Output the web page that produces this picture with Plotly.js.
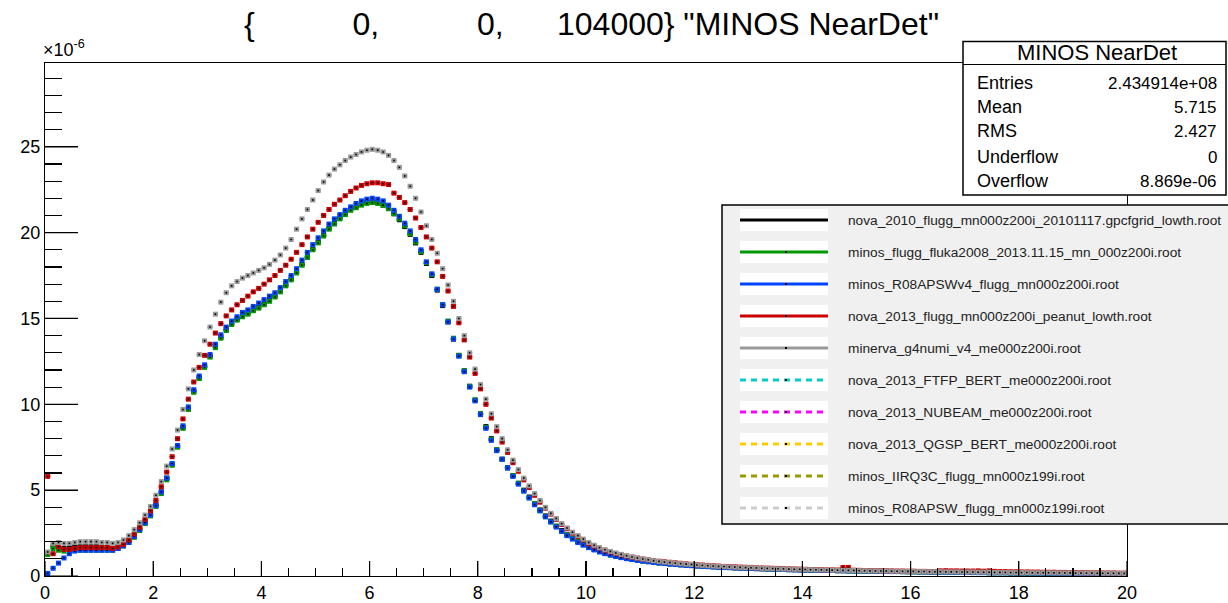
<!DOCTYPE html>
<html><head><meta charset="utf-8">
<script src="https://cdn.plot.ly/plotly-3.0.1.min.js"></script>
<style>html,body{margin:0;padding:0;background:#fff;} #chart{width:1228px;height:603px;}</style>
</head><body><div id="chart"></div>
<script>
// ---- histogram binning (axis structure) ----
const binLow = 0, binWidth = 0.1;

// ---- legend entries ----
const seriesNames = [
  "nova_2010_flugg_mn000z200i_20101117.gpcfgrid_lowth.root",
  "minos_flugg_fluka2008_2013.11.15_mn_000z200i.root",
  "minos_R08APSWv4_flugg_mn000z200i.root",
  "nova_2013_flugg_mn000z200i_peanut_lowth.root",
  "minerva_g4numi_v4_me000z200i.root",
  "nova_2013_FTFP_BERT_me000z200i.root",
  "nova_2013_NUBEAM_me000z200i.root",
  "nova_2013_QGSP_BERT_me000z200i.root",
  "minos_IIRQ3C_flugg_mn000z199i.root",
  "minos_R08APSW_flugg_mn000z199i.root"
];
const seriesColors = ["#000000","#009900","#0044ff","#cc0000","#999999","#00cccc","#ff00ff","#ffcc00","#999900","#cccccc"];
const seriesDash = ["solid","solid","solid","solid","solid","dash","dash","dash","dash","dash"];

// ---- series values (units of 1e-6), bins of 0.1 from 0 to 20 ----
const nova2010 = [
1.3,1.75,1.65,1.6,1.65,1.7,1.7,1.7,1.7,1.7,
1.65,1.65,1.6,1.7,1.85,2.05,2.35,2.75,3.15,3.6,
4.15,4.9,5.7,6.5,7.55,8.65,9.75,10.75,11.55,12.2,
12.8,13.35,13.9,14.35,14.7,14.95,15.15,15.3,15.5,15.65,
15.85,16.05,16.3,16.6,16.95,17.3,17.7,18.15,18.6,19.05,
19.45,19.85,20.25,20.55,20.85,21.1,21.35,21.5,21.65,21.75,
21.8,21.75,21.6,21.4,21.1,20.75,20.35,19.9,19.4,18.85,
18.2,17.5,16.65,15.75,14.8,13.8,12.85,11.95,11.05,10.25,
9.45,8.7,8.0,7.35,6.8,6.3,5.85,5.4,5.0,4.6,
4.2,3.85,3.5,3.2,2.9,2.65,2.4,2.2,2.0,1.83,
1.68,1.55,1.43,1.33,1.24,1.16,1.09,1.03,0.97,0.92,
0.88,0.84,0.8,0.77,0.74,0.71,0.68,0.66,0.63,0.61,
0.59,0.57,0.55,0.54,0.52,0.51,0.49,0.48,0.47,0.46,
0.44,0.43,0.42,0.41,0.4,0.39,0.38,0.37,0.37,0.36,
0.35,0.34,0.34,0.33,0.32,0.32,0.31,0.31,0.3,0.3,
0.29,0.29,0.28,0.28,0.27,0.27,0.26,0.26,0.26,0.25,
0.25,0.24,0.24,0.23,0.23,0.23,0.22,0.22,0.21,0.21,
0.21,0.2,0.2,0.2,0.19,0.19,0.19,0.19,0.18,0.18,
0.18,0.17,0.17,0.17,0.17,0.16,0.16,0.16,0.16,0.15,
0.15,0.15,0.15,0.14,0.14,0.14,0.14,0.14,0.13,0.13];

const minosFluka2008 = [
1.25,1.6,1.5,1.45,1.45,1.5,1.5,1.5,1.5,1.5,
1.5,1.5,1.5,1.6,1.75,1.95,2.25,2.65,3.05,3.5,
4.05,4.8,5.6,6.45,7.5,8.6,9.7,10.7,11.5,12.15,
12.75,13.3,13.85,14.3,14.65,14.9,15.1,15.25,15.45,15.6,
15.8,16.0,16.25,16.55,16.9,17.25,17.65,18.1,18.55,19.0,
19.4,19.8,20.2,20.5,20.8,21.05,21.3,21.45,21.6,21.7,
21.75,21.7,21.6,21.4,21.1,20.8,20.4,19.95,19.45,18.9,
18.25,17.55,16.7,15.8,14.85,13.85,12.85,11.95,11.05,10.25,
9.45,8.65,7.95,7.35,6.8,6.3,5.85,5.4,4.95,4.55,
4.2,3.8,3.45,3.15,2.9,2.6,2.4,2.2,2.0,1.82,
1.67,1.54,1.42,1.32,1.23,1.15,1.08,1.02,0.97,0.92,
0.88,0.84,0.8,0.76,0.73,0.7,0.68,0.65,0.63,0.61,
0.59,0.57,0.55,0.53,0.52,0.5,0.49,0.47,0.46,0.45,
0.44,0.43,0.42,0.4,0.4,0.39,0.38,0.37,0.36,0.36,
0.35,0.34,0.33,0.33,0.32,0.32,0.31,0.3,0.3,0.29,
0.29,0.28,0.28,0.27,0.27,0.26,0.26,0.26,0.25,0.25,
0.24,0.24,0.24,0.23,0.23,0.22,0.22,0.22,0.21,0.21,
0.21,0.2,0.2,0.2,0.19,0.19,0.19,0.19,0.18,0.18,
0.18,0.17,0.17,0.17,0.17,0.16,0.16,0.16,0.16,0.15,
0.15,0.15,0.15,0.14,0.14,0.14,0.14,0.13,0.13,0.13];

const minosR08APSWv4 = [
0.15,0.45,0.75,1.05,1.3,1.45,1.5,1.5,1.5,1.5,
1.5,1.5,1.5,1.6,1.75,1.95,2.3,2.7,3.1,3.55,
4.1,4.9,5.7,6.55,7.6,8.75,9.85,10.85,11.65,12.3,
12.9,13.5,14.05,14.5,14.85,15.1,15.35,15.5,15.7,15.9,
16.1,16.3,16.5,16.8,17.15,17.5,17.9,18.4,18.85,19.3,
19.7,20.1,20.5,20.8,21.05,21.3,21.5,21.7,21.85,21.95,
22.0,21.95,21.85,21.6,21.3,20.95,20.55,20.1,19.6,19.0,
18.3,17.6,16.7,15.8,14.8,13.8,12.8,11.9,11.0,10.2,
9.4,8.6,7.9,7.3,6.8,6.3,5.8,5.35,4.95,4.55,
4.15,3.8,3.45,3.15,2.85,2.6,2.35,2.15,1.95,1.8,
1.65,1.52,1.4,1.3,1.22,1.14,1.07,1.01,0.96,0.91,
0.87,0.83,0.79,0.76,0.73,0.7,0.67,0.65,0.62,0.6,
0.58,0.56,0.55,0.53,0.51,0.5,0.49,0.47,0.46,0.45,
0.44,0.43,0.42,0.41,0.4,0.39,0.38,0.37,0.36,0.35,
0.35,0.34,0.34,0.33,0.32,0.32,0.31,0.31,0.3,0.3,
0.29,0.29,0.28,0.28,0.27,0.27,0.26,0.26,0.25,0.25,
0.25,0.24,0.24,0.23,0.23,0.23,0.22,0.22,0.22,0.21,
0.21,0.21,0.2,0.2,0.2,0.19,0.19,0.19,0.18,0.18,
0.18,0.18,0.17,0.17,0.17,0.17,0.16,0.16,0.16,0.16,
0.15,0.15,0.15,0.15,0.14,0.14,0.14,0.14,0.13,0.13];

const nova2013Peanut = [
5.8,1.3,1.7,1.55,1.55,1.6,1.65,1.65,1.65,1.65,
1.65,1.65,1.6,1.7,1.85,2.1,2.45,2.85,3.3,3.8,
4.4,5.2,6.05,6.95,8.0,9.15,10.3,11.3,12.15,12.85,
13.5,14.15,14.7,15.15,15.5,15.8,16.05,16.3,16.55,16.75,
17.0,17.25,17.5,17.8,18.1,18.45,18.85,19.3,19.75,20.2,
20.6,21.0,21.35,21.65,21.9,22.15,22.4,22.6,22.75,22.85,
22.9,22.9,22.85,22.8,22.3,22.05,21.75,21.35,20.85,20.3,
19.75,19.1,18.3,17.45,16.6,15.7,14.75,13.75,12.75,11.8,
10.9,10.0,9.2,8.45,7.8,7.2,6.6,6.1,5.6,5.15,
4.7,4.3,3.95,3.6,3.3,3.0,2.75,2.5,2.3,2.1,
1.88,1.74,1.62,1.5,1.4,1.31,1.23,1.16,1.1,1.04,
0.99,0.94,0.9,0.86,0.83,0.8,0.77,0.74,0.71,0.68,
0.66,0.64,0.62,0.6,0.58,0.56,0.55,0.54,0.52,0.51,
0.5,0.48,0.47,0.46,0.45,0.44,0.43,0.42,0.41,0.4,
0.39,0.38,0.38,0.37,0.36,0.36,0.35,0.5,0.5,0.34,
0.33,0.32,0.32,0.31,0.31,0.3,0.3,0.29,0.29,0.28,
0.28,0.27,0.27,0.26,0.26,0.3,0.31,0.3,0.3,0.29,
0.29,0.29,0.3,0.28,0.3,0.27,0.26,0.26,0.25,0.25,
0.24,0.24,0.23,0.23,0.22,0.22,0.22,0.21,0.21,0.2,
0.2,0.2,0.19,0.19,0.19,0.18,0.18,0.18,0.17,0.17];

const minervaG4numi = [
1.4,1.9,1.95,1.9,1.9,1.95,2.0,2.0,2.0,2.0,
1.95,1.95,1.9,1.95,2.1,2.35,2.7,3.1,3.55,4.05,
4.7,5.5,6.4,7.4,8.5,9.7,10.9,12.0,12.9,13.7,
14.5,15.25,15.95,16.5,16.9,17.15,17.35,17.5,17.65,17.8,
17.95,18.15,18.4,18.7,19.1,19.6,20.2,20.8,21.35,21.9,
22.45,22.95,23.35,23.7,23.95,24.2,24.4,24.55,24.7,24.8,
24.85,24.8,24.7,24.5,24.2,23.8,23.3,22.7,22.0,21.2,
20.4,19.6,18.8,17.9,16.95,16.0,15.0,14.0,13.0,12.05,
11.15,10.3,9.45,8.7,8.0,7.35,6.75,6.2,5.7,5.25,
4.8,4.4,4.0,3.65,3.35,3.05,2.8,2.55,2.35,2.15,
1.95,1.79,1.65,1.53,1.43,1.34,1.26,1.18,1.11,1.05,
0.99,0.94,0.89,0.85,0.81,0.78,0.75,0.72,0.69,0.67,
0.64,0.62,0.6,0.58,0.56,0.55,0.53,0.52,0.5,0.49,
0.48,0.47,0.45,0.44,0.43,0.42,0.41,0.4,0.39,0.39,
0.38,0.37,0.36,0.36,0.35,0.34,0.34,0.33,0.33,0.32,
0.31,0.31,0.3,0.3,0.29,0.29,0.28,0.28,0.27,0.27,
0.27,0.26,0.26,0.25,0.25,0.25,0.24,0.24,0.24,0.23,
0.23,0.23,0.22,0.22,0.22,0.21,0.21,0.21,0.2,0.2,
0.2,0.2,0.19,0.19,0.19,0.19,0.18,0.18,0.18,0.18,
0.17,0.17,0.17,0.17,0.16,0.16,0.16,0.16,0.15,0.15];

const drawnSeries = [nova2010, minosFluka2008, minosR08APSWv4, nova2013Peanut, minervaG4numi];

// ---- stats box ----
const statsTitle = "MINOS NearDet";
const statsLabels = ["Entries","Mean","RMS","Underflow","Overflow"];
const statsValues = ["2.434914e+08","5.715","2.427","0","8.869e-06"];

// ---- axis ticks ----
const xRange = [0, 20], yRange = [0, 29.88];
const xMajorTicks = [0, 2, 4, 6, 8, 10, 12, 14, 16, 18, 20];
const yMajorTicks = [0, 5, 10, 15, 20, 25];
const xMinorStep = 0.5, yMinorStep = 1;
const titleText = "{" + "\u00a0".repeat(11) + "0," + "\u00a0".repeat(11) + "0," + "\u00a0".repeat(6) + "104000} \"MINOS NearDet\"";

// ---- layout geometry (pixels) ----
const W = 1228, H = 603, PL = 45, PR = 1127, PT = 63, PB = 576;
const px = v => (v - PL) / (PR - PL);
const py = v => (PB - v) / (PB - PT);
const FONT = "Liberation Sans, Arial, Helvetica, sans-serif";

const binCenters = vals => vals.map((_, i) => binLow + (i + 0.5) * binWidth);
const traces = [];
drawnSeries.forEach((vals, k) => {
  traces.push({
    type: "scatter", mode: "markers",
    x: binCenters(vals), y: vals,
    marker: {symbol: "square", size: 5, color: seriesColors[k], line: {width: 0}},
    error_x: {type: "constant", value: binWidth / 2, width: 0, thickness: 1.2, color: seriesColors[k]},
    showlegend: false, hoverinfo: "skip"
  });
  traces.push({
    type: "scatter", mode: "markers",
    x: binCenters(vals), y: vals,
    marker: {symbol: "square", size: 1.6, color: "#000000", line: {width: 0}},
    showlegend: false, hoverinfo: "skip"
  });
});
// empty trace so the minor-tick overlay axes are drawn
traces.push({type: "scatter", mode: "markers", x: [], y: [], xaxis: "x2", yaxis: "y2", showlegend: false, hoverinfo: "skip"});

const shapes = [];
const annotations = [];

// major ticks (ROOT style, inside, long) placed through the axis scales
xMajorTicks.forEach(v => shapes.push({type: "line", xref: "x", yref: "paper", x0: v, x1: v, y0: 0, y1: 15 / (PB - PT),
  line: {color: "#000", width: 1.2}, layer: "above"}));
yMajorTicks.forEach(v => shapes.push({type: "line", xref: "paper", yref: "y", x0: 0, x1: 33 / (PR - PL), y0: v, y1: v,
  line: {color: "#000", width: 1.2}, layer: "above"}));

// stats box
shapes.push({type: "rect", xref: "paper", yref: "paper", x0: px(963), x1: px(1226), y0: py(195), y1: py(41.5),
  fillcolor: "#ffffff", line: {color: "#000", width: 1.5}, layer: "above"});
shapes.push({type: "line", xref: "paper", yref: "paper", x0: px(963), x1: px(1226), y0: py(64.5), y1: py(64.5),
  line: {color: "#000", width: 1.2}, layer: "above"});
annotations.push({xref: "paper", yref: "paper", x: px(1097), y: py(53), text: statsTitle, showarrow: false,
  xanchor: "center", yanchor: "middle", font: {family: FONT, size: 22, color: "#000"}});
const statsRowY = [83, 107, 131, 157, 181];
statsLabels.forEach((lab, i) => {
  annotations.push({xref: "paper", yref: "paper", x: px(975), y: py(statsRowY[i]), text: lab, showarrow: false,
    xanchor: "left", yanchor: "middle", font: {family: FONT, size: 18, color: "#000"}});
  annotations.push({xref: "paper", yref: "paper", x: px(1219), y: py(statsRowY[i]), text: statsValues[i], showarrow: false,
    xanchor: "right", yanchor: "middle", font: {family: FONT, size: 17, color: "#000"}});
});

// legend
shapes.push({type: "rect", xref: "paper", yref: "paper", x0: px(722), x1: px(1235), y0: py(524), y1: py(205),
  fillcolor: "#f0f0f0", line: {color: "#000", width: 1.5}, layer: "above"});
seriesNames.forEach((name, i) => {
  const yc = 220 + i * 32;
  shapes.push({type: "rect", xref: "paper", yref: "paper", x0: px(740), x1: px(828), y0: py(yc + 11), y1: py(yc - 11),
    fillcolor: "#ffffff", line: {width: 0}, layer: "above"});
  shapes.push({type: "line", xref: "paper", yref: "paper", x0: px(740), x1: px(828), y0: py(yc), y1: py(yc),
    line: {color: seriesColors[i], width: 3, dash: seriesDash[i] === "dash" ? "6px,5px" : "solid"}, layer: "above"});
  shapes.push({type: "rect", xref: "paper", yref: "paper", x0: px(785), x1: px(787), y0: py(yc + 1), y1: py(yc - 1),
    fillcolor: "#000", line: {width: 0}, layer: "above"});
  annotations.push({xref: "paper", yref: "paper", x: px(846), y: py(yc), text: name, showarrow: false,
    xanchor: "left", yanchor: "middle", font: {family: FONT, size: 13.7, color: "#222"}});
});

// exponent label
annotations.push({xref: "paper", yref: "paper", x: px(41), y: py(62), text: "\u00d710<sup>-6</sup>", showarrow: false,
  xanchor: "left", yanchor: "bottom", font: {family: FONT, size: 18, color: "#000"}});

const tickFont = {family: FONT, size: 18, color: "#000"};
const layout = {
  width: W, height: H,
  margin: {l: PL, r: W - PR, t: PT, b: H - PB, pad: 0},
  paper_bgcolor: "#ffffff", plot_bgcolor: "#ffffff",
  showlegend: false,
  title: {text: titleText, x: 591.5 / W, xanchor: "center", y: 1 - 24 / H, yanchor: "middle",
    font: {family: FONT, size: 32, color: "#000"}},
  xaxis: {range: xRange, showline: true, mirror: true, linecolor: "#000", linewidth: 1.2,
    tickmode: "array", tickvals: xMajorTicks, ticktext: xMajorTicks.map(String),
    ticks: "inside", ticklen: 15, tickwidth: 1.2, tickcolor: "#000",
    showgrid: false, zeroline: false, tickfont: tickFont},
  yaxis: {range: yRange, showline: true, mirror: true, linecolor: "#000", linewidth: 1.2,
    tickmode: "array", tickvals: yMajorTicks, ticktext: yMajorTicks.map(String),
    ticks: "inside", ticklen: 33, tickwidth: 1.2, tickcolor: "#000",
    showgrid: false, zeroline: false, tickfont: tickFont},
  xaxis2: {range: xRange, overlaying: "x", anchor: "y2", side: "bottom", showline: false,
    tickmode: "linear", tick0: 0, dtick: xMinorStep, ticks: "inside", ticklen: 8, tickwidth: 1.2, tickcolor: "#000",
    showticklabels: false, showgrid: false, zeroline: false},
  yaxis2: {range: yRange, overlaying: "y", anchor: "x2", side: "left", showline: false,
    tickmode: "linear", tick0: 0, dtick: yMinorStep, ticks: "inside", ticklen: 17, tickwidth: 1.2, tickcolor: "#000",
    showticklabels: false, showgrid: false, zeroline: false},
  shapes: shapes,
  annotations: annotations
};

Plotly.newPlot("chart", traces, layout, {staticPlot: true, displayModeBar: false});
</script>
</body></html>
